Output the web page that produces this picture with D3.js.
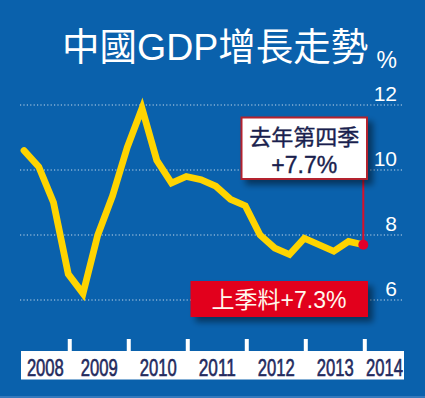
<!DOCTYPE html>
<html>
<head>
<meta charset="utf-8">
<script src="https://cdn.jsdelivr.net/npm/d3@7/dist/d3.min.js"></script>
<style>
html,body{margin:0;padding:0;background:#0a61ac;}
svg{display:block;}
</style>
</head>
<body>
<svg id="chart" width="425" height="398"></svg>
<script>
// ---- data ----
const quarters = ["2008Q1","2008Q2","2008Q3","2008Q4","2009Q1","2009Q2","2009Q3","2009Q4",
  "2010Q1","2010Q2","2010Q3","2010Q4","2011Q1","2011Q2","2011Q3","2011Q4",
  "2012Q1","2012Q2","2012Q3","2012Q4","2013Q1","2013Q2","2013Q3","2013Q4"];
const gdp = [10.6,10.1,9.0,6.8,6.2,8.0,9.2,10.7,11.9,10.3,9.6,9.8,9.7,9.5,9.1,8.9,
  8.0,7.6,7.4,7.9,7.7,7.5,7.8,7.7];
const years = ["2008","2009","2010","2011","2012","2013","2014"];
const yTicks = [6,8,10,12];
const title = "中國GDP增長走勢";
const unit = "%";
const noteLast = ["去年第四季","+7.7%"];
const noteForecast = "上季料+7.3%";

// ---- setup ----
const svg = d3.select("#chart");
const W = 425, H = 398;
const latin = "'Liberation Sans','Noto Sans CJK TC',sans-serif";

const defs = svg.append("defs");
const sh = defs.append("filter").attr("id","shadow").attr("x","-20%").attr("y","-30%").attr("width","150%").attr("height","180%");
sh.append("feGaussianBlur").attr("in","SourceAlpha").attr("stdDeviation",3).attr("result","b");
sh.append("feOffset").attr("in","b").attr("dx",5).attr("dy",5).attr("result","o");
sh.append("feComponentTransfer").attr("in","o").attr("result","s")
  .append("feFuncA").attr("type","linear").attr("slope",0.45);
const m = sh.append("feMerge");
m.append("feMergeNode").attr("in","s");
m.append("feMergeNode").attr("in","SourceGraphic");

svg.append("rect").attr("width",W).attr("height",H).attr("fill","#0a61ac");
svg.append("rect").attr("x",0).attr("y",H-2).attr("width",W).attr("height",2).attr("fill","#3479bd");

const x = d3.scaleLinear().domain([0, quarters.length-1]).range([24, 363.3]);
const y = d3.scaleLinear().domain([6,12]).range([300,105]);

// title
svg.append("text").attr("x",62).attr("y",60)
  .attr("font-family",latin).attr("font-size",37.5).attr("fill","#fff")
  .text(title);
svg.append("text").attr("x",397).attr("y",68).attr("text-anchor","end")
  .attr("font-family",latin).attr("font-size",23).attr("fill","#fff").text(unit);

// grid
svg.append("g").selectAll("line").data(yTicks).join("line")
  .attr("x1",20).attr("x2",403).attr("y1",d=>y(d)).attr("y2",d=>y(d))
  .attr("stroke","rgba(255,255,255,0.75)").attr("stroke-width",1.2)
  .attr("stroke-dasharray","1.2,2.2");
// y labels
const yAxis = d3.axisRight(y).tickValues(yTicks).tickSize(0).tickFormat(d3.format("d"));
const ga = svg.append("g").attr("transform","translate(397,0)").call(yAxis);
ga.select(".domain").remove();
ga.selectAll("text").attr("x",0).attr("dy",-5).attr("text-anchor","end")
  .attr("font-family",latin).attr("font-size",21).attr("fill","#fff");

// line
const line = d3.line().x((d,i)=>x(i)).y(d=>y(d));
svg.append("path").datum(gdp).attr("d",line)
  .attr("fill","none").attr("stroke","#ffd400").attr("stroke-width",6.8)
  .attr("stroke-linejoin","miter").attr("stroke-linecap","round");

// bottom year strip
const stripL = 21, stripR = 404;
svg.append("rect").attr("x",stripL).attr("y",351).attr("width",stripR-stripL).attr("height",28.5).attr("fill","#fff");
const bounds = d3.range(3, quarters.length, 4); // year-end quarter indexes
svg.append("g").selectAll("rect").data(bounds).join("rect")
  .attr("x",d=>x(d)-0.5).attr("y",339).attr("width",4).attr("height",13).attr("fill","#fff");
const edges = [stripL].concat(bounds.map(d=>x(d)+1.5)).concat([stripR]);
svg.append("g").selectAll("text").data(years).join("text")
  .attr("x",(d,i)=>(edges[i]+edges[i+1])/2).attr("y",375.5)
  .attr("text-anchor","middle")
  .attr("font-family","'Liberation Sans Narrow','Liberation Sans',sans-serif")
  .attr("font-size",23).attr("fill","#232a5e")
  .attr("stroke","#232a5e").attr("stroke-width",0.6)
  .attr("textLength",37).attr("lengthAdjust","spacingAndGlyphs")
  .text(d=>d);

// annotation: last quarter
const li = gdp.length-1;
const bx = 241.5, bw = 125.5, by = 117.5, bh = 61.5;
svg.append("line").attr("x1",x(li)).attr("x2",x(li)).attr("y1",by+bh).attr("y2",y(gdp[li]))
  .attr("stroke","#d8102c").attr("stroke-width",2);
svg.append("circle").attr("cx",x(li)).attr("cy",y(gdp[li])).attr("r",5).attr("fill","#e4002b");
svg.append("rect").attr("x",bx).attr("y",by).attr("width",bw).attr("height",bh)
  .attr("fill","#fff").attr("stroke","#b3222e").attr("stroke-width",2).attr("filter","url(#shadow)");
svg.append("text").attr("x",bx+bw/2).attr("y",145).attr("text-anchor","middle")
  .attr("font-family",latin).attr("font-size",22).attr("fill","#1a1f4e")
  .attr("stroke","#1a1f4e").attr("stroke-width",0.4).text(noteLast[0]);
svg.append("text").attr("x",bx+bw/2).attr("y",173).attr("text-anchor","middle")
  .attr("font-family",latin).attr("font-size",23).attr("fill","#1a1f4e")
  .attr("stroke","#1a1f4e").attr("stroke-width",0.4).text(noteLast[1]);

// annotation: forecast
svg.append("rect").attr("x",190.5).attr("y",281).attr("width",177.5).attr("height",36)
  .attr("fill","#e2001c").attr("filter","url(#shadow)");
svg.append("text").attr("x",279).attr("y",307.5).attr("text-anchor","middle")
  .attr("font-family",latin).attr("font-size",23).attr("fill","#fff8ee").text(noteForecast);
</script>
</body>
</html>
